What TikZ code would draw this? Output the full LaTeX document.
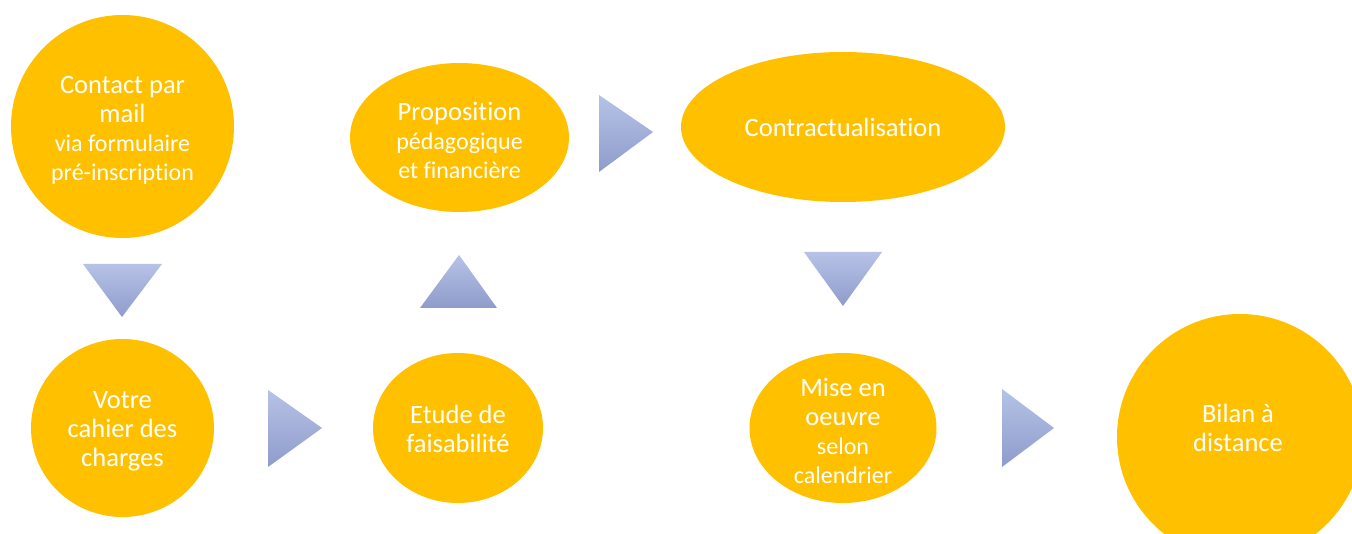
\documentclass[tikz,border=0pt]{standalone}
\usepackage{fontspec}
\setmainfont{Carlito}[Ligatures=NoCommon]
\usetikzlibrary{shapes.geometric}
\definecolor{gold}{HTML}{FFC000}
\definecolor{arrtop}{HTML}{B6C2E6}
\definecolor{arrbot}{HTML}{8F9CCB}
\tikzset{
  blob/.style={ellipse, fill=gold, draw=none, inner sep=0pt},
  lbl/.style={text=white, align=center, inner sep=0pt, font=\fontsize{26.5}{29}\selectfont},
  arrowtri/.style={top color=arrtop, bottom color=arrbot, draw=none},
}
\newcommand{\smtxt}[1]{{\fontsize{24}{26}\selectfont #1}}
\begin{document}
\begin{tikzpicture}[x=1pt,y=-1pt]
\useasboundingbox (0,0) rectangle (1352,534);
\clip (0,0) rectangle (1352,534);
\fill[white] (0,0) rectangle (1352,534);

% shapes
\node[blob, minimum width=223pt, minimum height=223pt] (c1) at (122.5,126.5) {};
\node[blob, minimum width=183pt, minimum height=178pt] (c2) at (122.5,428) {};
\node[blob, minimum width=170pt, minimum height=150pt] (c3) at (458,428) {};
\node[blob, minimum width=219pt, minimum height=149pt] (c4) at (459.5,137.5) {};
\node[blob, minimum width=324pt, minimum height=150pt] (c5) at (843,127) {};
\node[blob, minimum width=187pt, minimum height=150pt] (c6) at (843,428) {};
\node[blob, minimum width=246pt, minimum height=246pt] (c7) at (1240,437) {};

% texts
\node[lbl] (c1t) at (122.5,130) {Contact par\\mail\\\smtxt{via formulaire}\\\smtxt{pré-inscription}};
\node[lbl] (c2t) at (122.5,431) {Votre\\cahier des\\charges};
\node[lbl] (c3t) at (458,429) {Etude de\\faisabilité};
\node[lbl] (c4t) at (459.5,140) {Proposition\\\smtxt{pédagogique}\\\smtxt{et financière}};
\node[lbl] (c5t) at (c5) {Contractualisation};
\node[lbl] (c6t) at (843,431) {Mise en\\oeuvre\\\smtxt{selon}\\\smtxt{calendrier}};
\node[lbl] (c7t) at (1238,428) {Bilan à\\distance};

% arrows (triangles)
\shade[arrowtri] (83,264) -- (162,264) -- (122,317) -- cycle;
\shade[arrowtri] (268,390) -- (268,467) -- (322,428) -- cycle;
\shade[arrowtri] (420,308) -- (497,308) -- (459,255) -- cycle;
\shade[arrowtri] (599,95) -- (599,172) -- (653,132) -- cycle;
\shade[arrowtri] (804,252) -- (882,252) -- (843,306) -- cycle;
\shade[arrowtri] (1002,389) -- (1002,467) -- (1054,428) -- cycle;
\end{tikzpicture}
\end{document}
